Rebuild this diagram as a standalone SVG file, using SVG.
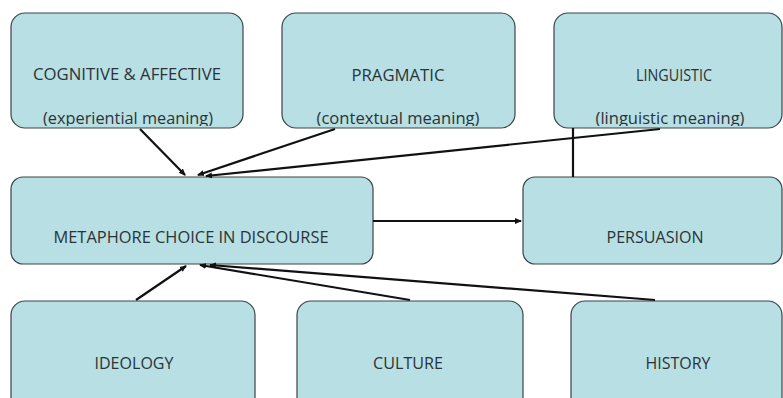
<svg xmlns="http://www.w3.org/2000/svg" width="783" height="398" viewBox="0 0 783 398">
<style>
.box{fill:#b8dfe3;stroke:#3a4448;stroke-width:1.2}
.t{font-family:"Open Sans","Liberation Sans",sans-serif;font-size:16.5px;fill:#2a3438;text-anchor:middle}
.c{stroke:#111;stroke-width:2.2;fill:none}
</style>
<defs>
<marker id="ah" markerWidth="8" markerHeight="8" refX="6" refY="4" orient="auto" markerUnits="userSpaceOnUse">
<path d="M0,1 L7,4 L0,7 Z" fill="#111"/>
</marker>
<clipPath id="c1"><rect x="11" y="13" width="232" height="113" rx="14"/></clipPath>
<clipPath id="c2"><rect x="282" y="13" width="233" height="113" rx="14"/></clipPath>
<clipPath id="c3"><rect x="554" y="13" width="228" height="113" rx="14"/></clipPath>
</defs>
<g id="cognitive">
<rect class="box" x="11" y="13" width="232" height="115" rx="14"/>
<g clip-path="url(#c1)">
<text class="t" x="127" y="80" textLength="188" lengthAdjust="spacingAndGlyphs">COGNITIVE &amp; AFFECTIVE</text>
<text class="t" x="128" y="124" textLength="170" lengthAdjust="spacingAndGlyphs">(experiential meaning)</text>
</g>
</g>
<g id="pragmatic">
<rect class="box" x="282" y="13" width="233" height="115" rx="14"/>
<g clip-path="url(#c2)">
<text class="t" x="398" y="81" textLength="93" lengthAdjust="spacingAndGlyphs">PRAGMATIC</text>
<text class="t" x="398" y="124" textLength="163" lengthAdjust="spacingAndGlyphs">(contextual meaning)</text>
</g>
</g>
<g id="linguistic">
<rect class="box" x="554" y="13" width="228" height="115" rx="14"/>
<g clip-path="url(#c3)">
<text class="t" x="674" y="81" textLength="76" lengthAdjust="spacingAndGlyphs">LINGUISTIC</text>
<text class="t" x="670" y="124" textLength="149" lengthAdjust="spacingAndGlyphs">(linguistic meaning)</text>
</g>
</g>
<g id="metaphore">
<rect class="box" x="11" y="177" width="362" height="87" rx="12"/>
<text class="t" x="191" y="243" textLength="275" lengthAdjust="spacingAndGlyphs">METAPHORE CHOICE IN DISCOURSE</text>
</g>
<g id="persuasion">
<rect class="box" x="523" y="177" width="259" height="87" rx="12"/>
<text class="t" x="655" y="243" textLength="97" lengthAdjust="spacingAndGlyphs">PERSUASION</text>
</g>
<g id="ideology">
<rect class="box" x="11" y="301" width="244" height="110" rx="14"/>
<text class="t" x="134" y="369" textLength="79" lengthAdjust="spacingAndGlyphs">IDEOLOGY</text>
</g>
<g id="culture">
<rect class="box" x="297" y="301" width="226" height="110" rx="14"/>
<text class="t" x="408" y="369" textLength="70" lengthAdjust="spacingAndGlyphs">CULTURE</text>
</g>
<g id="history">
<rect class="box" x="571" y="301" width="211" height="110" rx="14"/>
<text class="t" x="678" y="369" textLength="65" lengthAdjust="spacingAndGlyphs">HISTORY</text>
</g>
<g id="connectors">
<line class="c" x1="140" y1="129" x2="185" y2="175" marker-end="url(#ah)"/>
<line class="c" x1="335" y1="129" x2="198" y2="175" marker-end="url(#ah)"/>
<line class="c" x1="660" y1="129" x2="206" y2="176" marker-end="url(#ah)"/>
<line class="c" x1="573" y1="128" x2="573" y2="177"/>
<line class="c" x1="373" y1="221" x2="521" y2="221" marker-end="url(#ah)"/>
<line class="c" x1="136" y1="300" x2="186" y2="266" marker-end="url(#ah)"/>
<line class="c" x1="410" y1="300" x2="200" y2="265" marker-end="url(#ah)"/>
<line class="c" x1="655" y1="300" x2="210" y2="265" marker-end="url(#ah)"/>
</g>
</svg>
